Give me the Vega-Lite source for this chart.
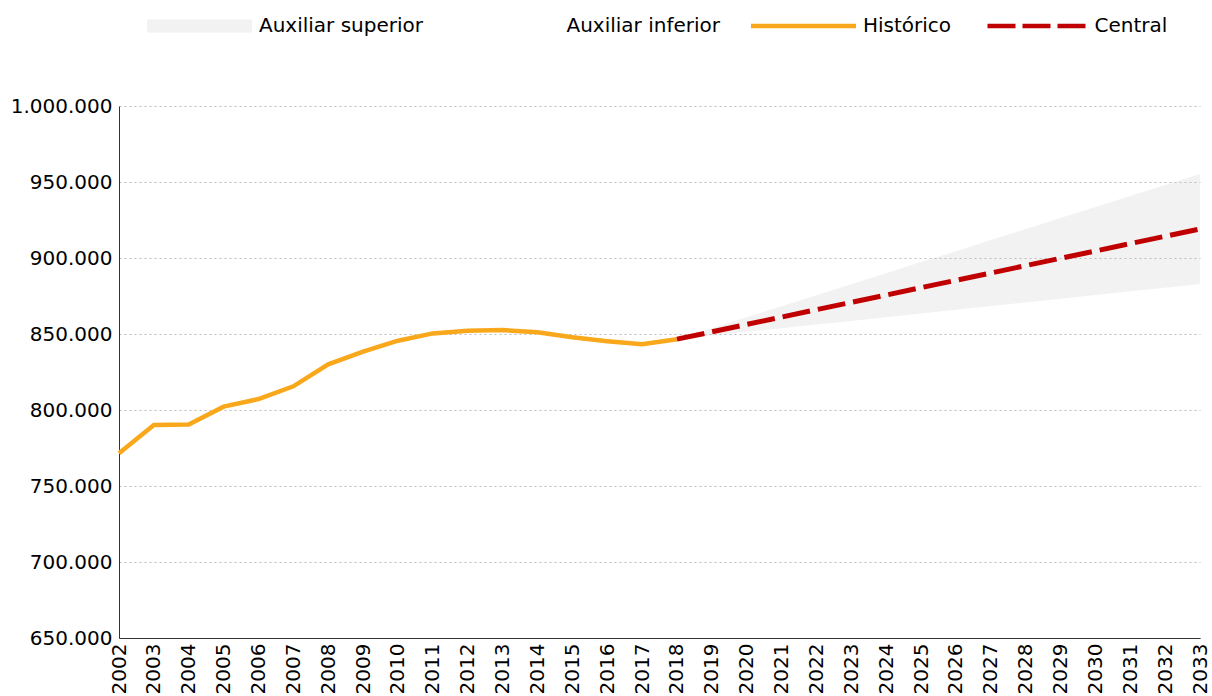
{
  "$schema": "https://vega.github.io/schema/vega-lite/v6.json",
  "width": 1081,
  "height": 532,
  "autosize": {"type": "none"},
  "padding": {"left": 119, "top": 106, "right": 12, "bottom": 58},
  "background": "white",
  "config": {
    "view": {"stroke": null},
    "font": "DejaVu Sans",
    "axis": {"labelFont": "DejaVu Sans", "labelFontSize": 20, "labelColor": "#000000", "ticks": false, "domainColor": "#333333", "domainWidth": 1, "title": null}
  },
  "datasets": {
    "lines": [
      {"year": "2002", "series": "Histórico", "value": 771500},
      {"year": "2003", "series": "Histórico", "value": 790100},
      {"year": "2004", "series": "Histórico", "value": 790400},
      {"year": "2005", "series": "Histórico", "value": 802200},
      {"year": "2006", "series": "Histórico", "value": 807200},
      {"year": "2007", "series": "Histórico", "value": 815600},
      {"year": "2008", "series": "Histórico", "value": 830000},
      {"year": "2009", "series": "Histórico", "value": 838400},
      {"year": "2010", "series": "Histórico", "value": 845600},
      {"year": "2011", "series": "Histórico", "value": 850400},
      {"year": "2012", "series": "Histórico", "value": 852200},
      {"year": "2013", "series": "Histórico", "value": 852600},
      {"year": "2014", "series": "Histórico", "value": 851100},
      {"year": "2015", "series": "Histórico", "value": 847800},
      {"year": "2016", "series": "Histórico", "value": 845300},
      {"year": "2017", "series": "Histórico", "value": 843200},
      {"year": "2018", "series": "Histórico", "value": 846600},
      {"year": "2018", "series": "Central", "value": 846600},
      {"year": "2019", "series": "Central", "value": 851400},
      {"year": "2020", "series": "Central", "value": 856300},
      {"year": "2021", "series": "Central", "value": 861100},
      {"year": "2022", "series": "Central", "value": 866000},
      {"year": "2023", "series": "Central", "value": 870800},
      {"year": "2024", "series": "Central", "value": 875600},
      {"year": "2025", "series": "Central", "value": 880500},
      {"year": "2026", "series": "Central", "value": 885300},
      {"year": "2027", "series": "Central", "value": 890100},
      {"year": "2028", "series": "Central", "value": 895000},
      {"year": "2029", "series": "Central", "value": 899800},
      {"year": "2030", "series": "Central", "value": 904600},
      {"year": "2031", "series": "Central", "value": 909500},
      {"year": "2032", "series": "Central", "value": 914300},
      {"year": "2033", "series": "Central", "value": 919100}
    ],
    "band": [
      {"year": "2018", "lower": 846600, "upper": 846600},
      {"year": "2019", "lower": 849000, "upper": 853800},
      {"year": "2020", "lower": 851400, "upper": 861000},
      {"year": "2021", "lower": 853800, "upper": 868300},
      {"year": "2022", "lower": 856200, "upper": 875500},
      {"year": "2023", "lower": 858600, "upper": 882800},
      {"year": "2024", "lower": 861100, "upper": 890000},
      {"year": "2025", "lower": 863500, "upper": 897300},
      {"year": "2026", "lower": 865900, "upper": 904500},
      {"year": "2027", "lower": 868400, "upper": 911800},
      {"year": "2028", "lower": 870800, "upper": 919000},
      {"year": "2029", "lower": 873200, "upper": 926300},
      {"year": "2030", "lower": 875600, "upper": 933500},
      {"year": "2031", "lower": 878100, "upper": 940800},
      {"year": "2032", "lower": 880500, "upper": 948000},
      {"year": "2033", "lower": 882900, "upper": 955300}
    ]
  },
  "encoding": {
    "x": {
      "field": "year", "type": "ordinal",
      "scale": {"type": "point", "padding": 0, "domain": ["2002","2003","2004","2005","2006","2007","2008","2009","2010","2011","2012","2013","2014","2015","2016","2017","2018","2019","2020","2021","2022","2023","2024","2025","2026","2027","2028","2029","2030","2031","2032","2033"]},
      "axis": {"labelAngle": -90, "labelAlign": "right", "labelBaseline": "middle", "labelPadding": 5, "grid": false, "domain": true}
    }
  },
  "layer": [
    {
      "data": {"name": "band"},
      "mark": {"type": "area", "fill": "#bfbfbf", "fillOpacity": 0.2, "stroke": null},
      "encoding": {
        "y": {"field": "lower", "type": "quantitative",
          "scale": {"domain": [650000, 1000000], "nice": false, "zero": false},
          "axis": {"values": [650000,700000,750000,800000,850000,900000,950000,1000000], "grid": true, "gridColor": "#bdbdbd", "gridDash": [2, 3], "gridWidth": 1, "labelPadding": 7, "labelExpr": "replace(format(datum.value, ','), /,/g, '.')"}},
        "y2": {"field": "upper"}
      }
    },
    {
      "data": {"name": "lines"},
      "transform": [{"filter": "datum.series === 'Histórico'"}],
      "mark": {"type": "line", "strokeWidth": 4.5, "strokeJoin": "miter"},
      "encoding": {
        "y": {"field": "value", "type": "quantitative"},
        "color": {
          "field": "series", "type": "nominal",
          "scale": {"domain": ["Auxiliar superior", "Auxiliar inferior", "Histórico", "Central"], "range": ["#f2f2f2", "#ffffff", "#f9a81b", "#c00000"]},
          "legend": {
            "title": null, "orient": "none", "direction": "horizontal", "legendX": 28, "legendY": -90,
            "padding": 0, "columnPadding": 30.5, "symbolSize": 400, "symbolStrokeWidth": 0,
            "symbolOffset": 42.5, "labelOffset": 49.5,
            "labelFont": "DejaVu Sans", "labelFontSize": 20, "labelColor": "#000000", "labelLimit": 400,
            "encode": {
              "symbols": {
                "update": {
                  "shape": {"signal": "datum.value === 'Central' ? 'M-4.75,-0.23H-1.95V0.23H-4.75Z M-1.25,-0.23H1.55V0.23H-1.25Z M2.25,-0.23H5.05V0.23H2.25Z' : (datum.value === 'Histórico' ? 'M-5.25,-0.23H5.25V0.23H-5.25Z' : 'M-5.25,-0.65H5.25V0.65H-5.25Z')"},
                  "fill": {"signal": "scale('color', datum.value)"},
                  "fillOpacity": {"value": 1},
                  "opacity": {"value": 1},
                  "stroke": {"value": "transparent"},
                  "strokeWidth": {"value": 0}
                }
              }
            }
          }
        }
      }
    },
    {
      "data": {"name": "lines"},
      "transform": [{"filter": "datum.series === 'Central'"}],
      "mark": {"type": "line", "strokeWidth": 5, "strokeDash": [28, 8]},
      "encoding": {
        "y": {"field": "value", "type": "quantitative"},
        "color": {"field": "series", "type": "nominal"}
      }
    }
  ]
}
